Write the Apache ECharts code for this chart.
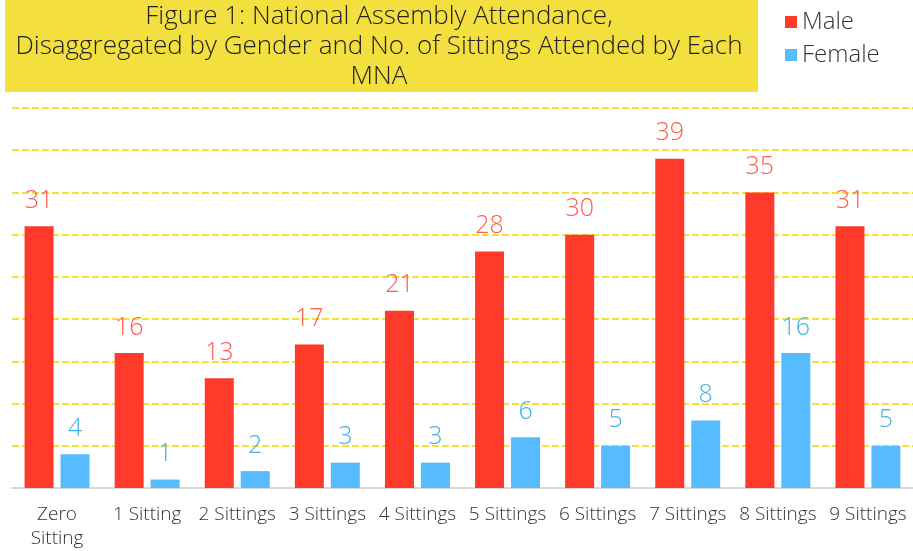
<!DOCTYPE html>
<html><head><meta charset="utf-8">
<script src="https://cdn.jsdelivr.net/npm/echarts@6/dist/echarts.min.js"></script>
<style>html,body{margin:0;padding:0;background:#fff}#c{width:913px;height:551px}</style>
</head><body><div id="c"></div>
<script>
const categories = ['Zero\nSitting','1 Sitting','2 Sittings','3 Sittings','4 Sittings','5 Sittings','6 Sittings','7 Sittings','8 Sittings','9 Sittings'];
const maleValues = [31,16,13,17,21,28,30,39,35,31];
const femaleValues = [4,1,2,3,3,6,5,8,16,5];
const titleLines = 'Figure 1: National Assembly Attendance,\nDisaggregated by Gender and No. of Sittings Attended by Each\nMNA';
const FONT = 'Open Sans';
const chart = echarts.init(document.getElementById('c'));
chart.setOption({
  animation:false,
  textStyle:{fontFamily:FONT},
  graphic:[
    {type:'rect', shape:{x:5,y:0,width:753,height:92}, style:{fill:'#F3DF3D'}, z:0},
    {type:'text', x:379, y:47, style:{text:titleLines, fill:'#222', font:'300 26px "Open Sans"', textAlign:'center', textVerticalAlign:'middle', lineHeight:30}, z:1}
  ],
  legend:{
    orient:'vertical', left:780, top:5, itemWidth:12, itemHeight:12, itemGap:9,
    icon:'rect',
    textStyle:{fontSize:24, color:'#333', fontFamily:FONT, fontWeight:300},
    data:['Male','Female']
  },
  grid:{left:12, right:0, top:108, bottom:63, containLabel:false, outerBoundsMode:'none'},
  xAxis:{
    type:'category', data:categories,
    axisLine:{lineStyle:{color:'#d9d9d9', width:2}},
    axisTick:{show:false},
    axisLabel:{fontSize:19, color:'#333', margin:15, lineHeight:24, interval:0, fontFamily:FONT, fontWeight:300}
  },
  yAxis:{
    type:'value', min:0, max:45, interval:5,
    axisLabel:{show:false}, axisLine:{show:false}, axisTick:{show:false},
    splitLine:{lineStyle:{color:'#F3DF3D', width:2, type:[7,3]}}
  },
  series:[
    {name:'Male', type:'bar', data:maleValues, barWidth:29, barGap:'24%',
     itemStyle:{color:'#FF3A2A'},
     label:{show:true, position:'top', distance:13, fontSize:25, color:'#FF5A4E', fontFamily:FONT, fontWeight:300}},
    {name:'Female', type:'bar', data:femaleValues, barWidth:29,
     itemStyle:{color:'#56BBFF'},
     label:{show:true, position:'top', distance:13, fontSize:25, color:'#3FB2E2', fontFamily:FONT, fontWeight:300}}
  ]
});
</script></body></html>
